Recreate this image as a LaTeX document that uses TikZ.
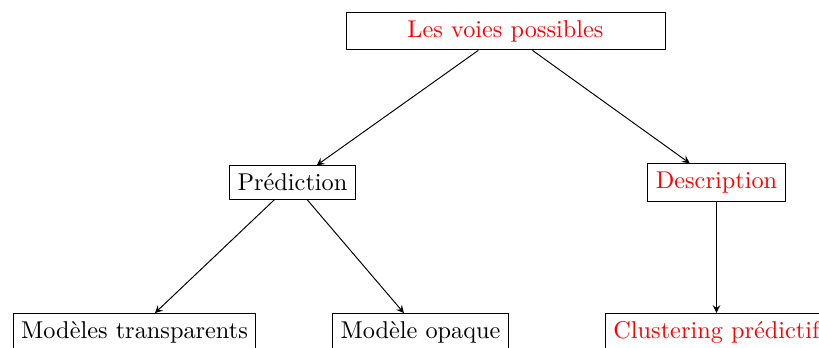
\documentclass[tikz,border=0pt]{standalone}
\begin{document}
\begin{tikzpicture}[x=0.4115pt,y=-0.4115pt,
  box/.style={draw,inner sep=3.33pt},
  redtext/.style={text=red},
  arr/.style={-stealth}]
\useasboundingbox (0,0) rectangle (819,347);
\node[box,redtext,minimum width=319*0.4115pt] (top) at (505.5,31) {Les voies possibles};
\node[box] (pred) at (292.5,182.5) {Prédiction};
\node[box,redtext] (desc) at (716.5,182.5) {Description};
\node[box] (transp) at (134.5,332.5) {Modèles transparents};
\node[box] (opaque) at (420.5,332.5) {Modèle opaque};
\node[box,redtext] (clust) at (716.5,332.5) {Clustering prédictif};
\draw[arr] (top) -- (pred);
\draw[arr] (top) -- (desc);
\draw[arr] (pred) -- (transp);
\draw[arr] (pred) -- (opaque);
\draw[arr] (desc) -- (clust);
\end{tikzpicture}
\end{document}
